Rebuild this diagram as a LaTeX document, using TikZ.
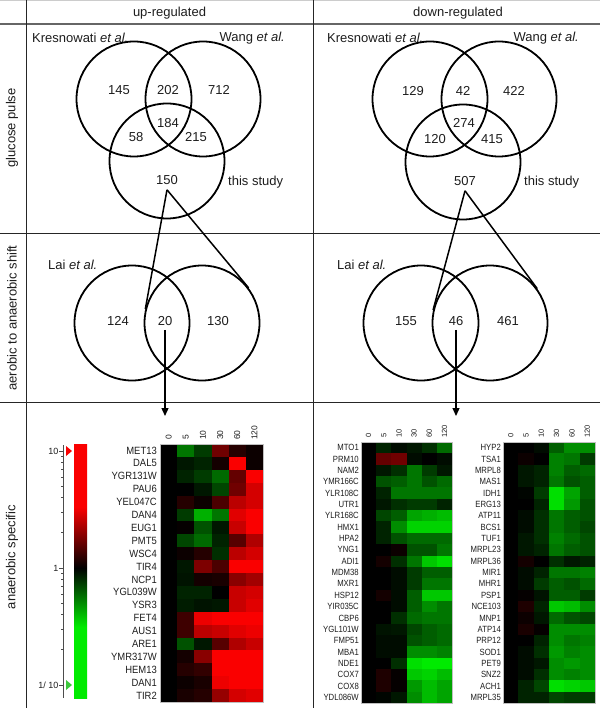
\documentclass[tikz,border=0pt]{standalone}
\usepackage{fontspec}
\setmainfont{Liberation Sans}
\newfontfamily\genefontL[FakeStretch=0.9]{Liberation Sans}
\newfontfamily\genefontR[FakeStretch=0.86]{Liberation Sans}
\usetikzlibrary{arrows.meta,calc}
\definecolor{myred}{RGB}{250,0,0}
\definecolor{mygreen}{RGB}{0,235,0}
\definecolor{trigreen}{RGB}{60,200,60}
\definecolor{txt}{RGB}{30,30,30}
\pgfdeclareverticalshading{cbarshade}{100bp}{color(0bp)=(mygreen); color(39bp)=(mygreen); color(50.6bp)=(black); color(62.6bp)=(myred); color(100bp)=(myred)}
\newcommand\hmap[5]{%
  \foreach \vals [count=\i] in {#5} {
    \foreach \v [count=\j] in \vals {
      \pgfmathtruncatemacro\p{round(abs(\v)*100)}
      \pgfmathtruncatemacro\s{\v>0}
      \ifnum\s=1 \def\cc{myred}\else\def\cc{mygreen}\fi
      \fill[\cc!\p!black] ({#1+(\j-1)*#3},{#2+(\i-1)*#4}) rectangle ++(#3+0.3,#4+0.3);
    }
  }
}
\tikzset{
  venn/.style={circle, draw, line width=1.8pt, minimum size=115pt, inner sep=0pt},
  big/.style={font=\fontsize{13}{15}\selectfont, text=txt, inner sep=0pt},
  gene/.style={font=\genefontL\fontsize{10.5}{11}\selectfont, text=txt, anchor=east, inner sep=0pt},
  genes/.style={font=\genefontR\fontsize{9}{10}\selectfont, text=txt, anchor=east, inner sep=0pt},
  coll/.style={font=\fontsize{8.5}{9}\selectfont, text=txt, rotate=90, anchor=west, inner sep=0pt},
  cols/.style={font=\fontsize{7.5}{8}\selectfont, text=txt, rotate=90, anchor=west, inner sep=0pt},
  ticklab/.style={font=\fontsize{9}{10}\selectfont, text=txt, anchor=east, inner sep=0pt},
  gridline/.style={line width=1pt, draw=black!85},
  cone/.style={line width=1.5pt},
  arr/.style={line width=1.3pt, -{Triangle[length=8pt,width=7pt]}},
  hmframe/.style={draw=gray!50, line width=0.6pt},
}
\begin{document}
\begin{tikzpicture}[x=1pt,y=-1pt]
\useasboundingbox (0,0) rectangle (600,708);
\fill[white] (0,0) rectangle (600,708);
% table lines
\draw[black!20, line width=0.8pt] (0,0.5) -- (600,0.5);
\draw[black!60, line width=1.6pt] (0,24) -- (600,24);
\draw[gridline] (0,233.5) -- (600,233.5);
\draw[gridline] (0,402.5) -- (600,402.5);
\draw[gridline] (26,0) -- (26,708);
\draw[gridline] (313,0) -- (313,708);
% headers
\node[big] (hup) at (169.5,13) {up-regulated};
\node[big] (hdown) at (458,13) {down-regulated};
\node[big, rotate=90] (r1) at (12,128) {glucose pulse};
\node[big, rotate=90] (r2) at (12,318) {aerobic to anaerobic shift};
\node[big, rotate=90] (r3) at (12,557) {anaerobic specific};
% up-regulated Venn
\node[venn] (uK) at (134,99) {};
\node[venn] (uW) at (203,99) {};
\node[venn] (uT) at (167,161) {};
\node[big, anchor=west] (uKl) at (32,38) {Kresnowati \textit{et al.}};
\node[big, anchor=east] (uWl) at (285,38) {Wang \textit{et al.}};
\node[big, anchor=west] (uTl) at (228,182) {this study};
\node[big] (u145) at (119,90) {145};
\node[big] (u202) at (168,90) {202};
\node[big] (u712) at (219,90) {712};
\node[big] (u184) at (168,123) {184};
\node[big] (u58) at (136,137) {58};
\node[big] (u215) at (196,137) {215};
\node[big] (u150) at (167,180) {150};
% down-regulated Venn
\node[venn] (dK) at (430,99) {};
\node[venn] (dW) at (499,99) {};
\node[venn] (dT) at (463,162) {};
\node[big, anchor=west] (dKl) at (327,38) {Kresnowati \textit{et al.}};
\node[big, anchor=east] (dWl) at (579,38) {Wang \textit{et al.}};
\node[big, anchor=west] (dTl) at (524,182) {this study};
\node[big] (d129) at (413,91) {129};
\node[big] (d42) at (463,91) {42};
\node[big] (d422) at (514,91) {422};
\node[big] (d274) at (464,123) {274};
\node[big] (d120) at (435,139) {120};
\node[big] (d415) at (492,139) {415};
\node[big] (d507) at (465,181) {507};
% lower Venns
\node[venn] (lL) at (132,323) {};
\node[venn] (lR) at (202,323) {};
\node[big, anchor=west] (lLai) at (48,265) {Lai \textit{et al.}};
\node[big] (l124) at (118,321) {124};
\node[big] (l20) at (165,321) {20};
\node[big] (l130) at (218,321) {130};
\node[venn] (mL) at (421,323) {};
\node[venn] (mR) at (490,323) {};
\node[big, anchor=west] (mLai) at (337,265) {Lai \textit{et al.}};
\node[big] (m155) at (406,321) {155};
\node[big] (m46) at (456,321) {46};
\node[big] (m461) at (508,321) {461};
% cones
\draw[cone] ([yshift=-5pt]u150.south) -- (lR.166);
\draw[cone] ([yshift=-5pt]u150.south) -- (lR.37);
\draw[cone] ([yshift=-5pt]d507.south) -- (mR.167);
\draw[cone] ([yshift=-5pt]d507.south) -- (mR.36);
% arrows
\coordinate (tipL) at (165,416);
\coordinate (tipR) at (456,416);
\draw[arr] ([yshift=-4pt]l20.south) -- (tipL);
\draw[arr] ([yshift=-4pt]m46.south) -- (tipR);
% colour bar
\fill[shading=cbarshade] (74,444) rectangle (87,698);
\draw[gray!60!black, line width=0.8pt] (63,445) -- (63,698);
\foreach \k in {2,...,9} {
  \pgfmathsetmacro\ya{568-117*log10(\k)}
  \pgfmathsetmacro\yb{568+117*(1-log10(\k))}
  \draw[gray!60!black, line width=0.6pt] (61,\ya) -- (63,\ya);
  \draw[gray!60!black, line width=0.6pt] (61,\yb) -- (63,\yb);
}
\foreach \yy in {451,568,685} \draw[gray!60!black, line width=0.6pt] (59,\yy) -- (63,\yy);
\node[ticklab] (t10) at (58.5,451) {10};
\node[ticklab] (t1) at (58.5,568) {1};
\node[ticklab] (t01) at (58.5,685) {1/ 10};
\fill[myred] (66,446) -- (72,451) -- (66,456) -- cycle;
\fill[trigreen] (66,680) -- (72,685) -- (66,690) -- cycle;
% left heatmap
\hmap{160}{444}{17.17}{12.9}{
{0,-0.5,-0.25,0.45,0.15,0.05},
{0,-0.1,-0.15,0.08,1.0,0.05},
{0,-0.15,-0.25,-0.45,0.4,1.0},
{0,0,-0.1,-0.3,0.45,0.85},
{0,0.15,0.05,0.3,0.75,0.85},
{0,-0.25,-0.75,-0.5,0.9,1.0},
{0,0.02,-0.35,-0.1,0.8,1.0},
{0,-0.3,-0.45,-0.15,0.35,0.7},
{0,0.05,0.15,-0.2,0.75,0.85},
{0,-0.1,0.5,0.3,1.0,1.0},
{0,-0.08,0.08,0.1,0.55,0.65},
{0,-0.15,-0.15,0,0.8,0.85},
{0,-0.12,-0.08,-0.1,0.8,0.9},
{0,0.25,0.95,1.0,1.0,1.0},
{0,0.25,0.75,0.8,0.9,0.95},
{0,-0.35,-0.1,0.35,0.7,0.8},
{0,0.08,0.55,1.0,1.0,1.0},
{0,0.15,0.2,1.0,1.0,1.0},
{0,0.05,0.1,0.95,1.0,1.0},
{0,0.1,0.15,0.6,0.85,0.9}}
\draw[hmframe] (160,444) rectangle (263,702);
\foreach \g [count=\i] in {MET13,DAL5,YGR131W,PAU6,YEL047C,DAN4,EUG1,PMT5,WSC4,TIR4,NCP1,YGL039W,YSR3,FET4,AUS1,ARE1,YMR317W,HEM13,DAN1,TIR2}
  \node[gene] (gl\i) at (157,{444+(\i-0.5)*12.9}) {\g};
\foreach \c [count=\j] in {0,5,10,30,60,120}
  \node[coll] (cl\j) at ({160+(\j-0.5)*17.17},440) {\c};
% right heatmap A
\hmap{361}{442}{15.17}{11.35}{
{0,-0.15,-0.05,-0.1,-0.2,-0.45},
{0,0.4,0.45,-0.05,0,-0.05},
{0,-0.1,-0.2,-0.5,-0.25,-0.1},
{0,-0.35,-0.4,-0.5,-0.35,-0.45},
{0,-0.15,-0.5,-0.5,-0.5,-0.5},
{0,-0.1,-0.2,-0.25,-0.25,-0.15},
{0,-0.3,-0.4,-0.7,-0.75,-0.8},
{0,-0.15,-0.6,-0.9,-0.9,-0.9},
{0,-0.15,-0.35,-0.45,-0.45,-0.45},
{0,0,0.05,-0.35,-0.35,-0.5},
{0,0.08,-0.2,-0.5,-0.85,-0.95},
{0,0,-0.05,-0.25,-0.4,-0.4},
{0,0,-0.05,-0.25,-0.5,-0.5},
{0,0.08,-0.05,-0.4,-0.85,-0.85},
{0,0,-0.05,-0.4,-0.6,-0.5},
{0,0,-0.2,-0.45,-0.5,-0.5},
{0,-0.08,-0.1,-0.3,-0.4,-0.45},
{0,-0.05,-0.05,-0.35,-0.4,-0.45},
{0,-0.05,-0.05,-0.6,-0.6,-0.55},
{0,0,-0.2,-0.95,-1,-1},
{0,0.12,0.02,-0.85,-0.9,-0.8},
{0,0.12,0.02,-0.65,-0.8,-0.7},
{0,-0.02,-0.1,-0.6,-0.8,-0.7}}
\draw[hmframe] (361,442) rectangle (452,703);
\foreach \g [count=\i] in {MTO1,PRM10,NAM2,YMR166C,YLR108C,UTR1,YLR168C,HMX1,HPA2,YNG1,ADI1,MDM38,MXR1,HSP12,YIR035C,CBP6,YGL101W,FMP51,MBA1,NDE1,COX7,COX8,YDL086W}
  \node[genes] (ga\i) at (359,{442+(\i-0.5)*11.35}) {\g};
\foreach \c [count=\j] in {0,5,10,30,60,120}
  \node[cols] (ca\j) at ({361+(\j-0.5)*15.17},438) {\c};
% right heatmap B
\hmap{503}{442}{15.33}{11.35}{
{0,0,-0.05,-0.4,-0.6,-0.6},
{0,0.05,0,-0.55,-0.5,-0.25},
{0,-0.1,-0.15,-0.55,-0.4,-0.45},
{0,-0.1,-0.15,-0.5,-0.35,-0.4},
{0,-0.02,-0.25,-0.95,-0.7,-0.4},
{0,0,-0.15,-0.95,-0.65,-0.35},
{0,-0.05,-0.2,-0.5,-0.4,-0.35},
{0,-0.05,-0.2,-0.5,-0.4,-0.3},
{0,-0.1,-0.2,-0.55,-0.45,-0.35},
{0,-0.1,-0.15,-0.5,-0.4,-0.35},
{0,0.08,0,-0.2,-0.1,-0.15},
{0,-0.05,-0.15,-0.5,-0.5,-0.55},
{0,-0.05,-0.25,-0.4,-0.35,-0.45},
{0,0.02,-0.08,-0.4,-0.4,-0.25},
{0,0.12,-0.15,-0.85,-0.8,-0.6},
{0,0.05,-0.1,-0.45,-0.35,-0.3},
{0,0.1,0.02,-0.6,-0.6,-0.6},
{0,0,-0.15,-0.6,-0.5,-0.55},
{0,-0.05,-0.2,-0.65,-0.55,-0.6},
{0,-0.05,-0.1,-0.6,-0.65,-0.6},
{0,-0.05,-0.2,-0.6,-0.55,-0.6},
{0,-0.15,-0.3,-0.95,-0.9,-0.85},
{0,-0.15,-0.15,-0.3,-0.25,-0.25}}
\draw[hmframe] (503,442) rectangle (595,703);
\foreach \g [count=\i] in {HYP2,TSA1,MRPL8,MAS1,IDH1,ERG13,ATP11,BCS1,TUF1,MRPL23,MRPL36,MIR1,MHR1,PSP1,NCE103,MNP1,ATP14,PRP12,SOD1,PET9,SNZ2,ACH1,MRPL35}
  \node[genes] (gb\i) at (501,{442+(\i-0.5)*11.35}) {\g};
\foreach \c [count=\j] in {0,5,10,30,60,120}
  \node[cols] (cb\j) at ({503+(\j-0.5)*15.33},438) {\c};
\end{tikzpicture}
\end{document}
